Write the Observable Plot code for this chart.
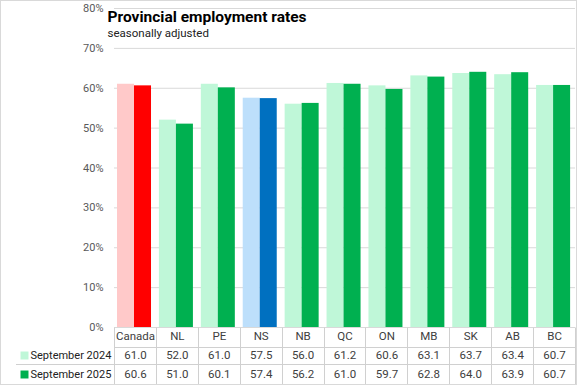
<!DOCTYPE html>
<html>
<head>
<meta charset="utf-8">
<script src="https://cdn.jsdelivr.net/npm/d3@7"></script>
<script src="https://cdn.jsdelivr.net/npm/@observablehq/plot@0.6"></script>
<style>
  html, body { margin: 0; padding: 0; background: #fff; }
  #chart svg { display: block; outline: 1px solid #d9d9d9; outline-offset: -1px; }
</style>
</head>
<body>
<div id="chart"></div>
<script>
const categories = ["Canada", "NL", "PE", "NS", "NB", "QC", "ON", "MB", "SK", "AB", "BC"];
const sep2024 = [61.0, 52.0, 61.0, 57.5, 56.0, 61.2, 60.6, 63.1, 63.7, 63.4, 60.7];
const sep2025 = [60.6, 51.0, 60.1, 57.4, 56.2, 61.0, 59.7, 62.8, 64.0, 63.9, 60.7];
const seriesLabels = ["September 2024", "September 2025"];
const yTicks = [0, 10, 20, 30, 40, 50, 60, 70, 80];
const titleText = "Provincial employment rates";
const subtitleText = "seasonally adjusted";

const lightColor = c => c === "Canada" ? "#ffc9c9" : c === "NS" ? "#bddffb" : "#bff7d8";
const darkColor = c => c === "Canada" ? "#ff0000" : c === "NS" ? "#0070c0" : "#00b050";

const data = categories.map((c, i) => ({cat: c, v2024: sep2024[i], v2025: sep2025[i]}));
const font = "Roboto, 'Liberation Sans', sans-serif";

const chart = Plot.plot({
  width: 577,
  height: 385,
  marginLeft: 114,
  marginRight: 2,
  marginTop: 8,
  marginBottom: 58,
  style: {fontFamily: font, background: "#fff"},
  x: {domain: categories, padding: 0, round: false, axis: null},
  y: {domain: [0, 80], axis: null},
  marks: [
    Plot.gridY(yTicks, {stroke: "#d9d9d9", strokeOpacity: 1}),
    Plot.axisY(yTicks, {tickSize: 0, tickPadding: 11, tickFormat: d => d + "%", fill: "#595959", fontSize: 11, label: null}),
    Plot.barY(data, {x: "cat", y: "v2024", fill: d => lightColor(d.cat), insetLeft: 3, insetRight: 21.9}),
    Plot.barY(data, {x: "cat", y: "v2025", fill: d => darkColor(d.cat), insetLeft: 20, insetRight: 4.9}),
    Plot.text(categories, {x: d => d, text: d => d, frameAnchor: "bottom", lineAnchor: "middle", dy: 9, fontSize: 11.5, fill: "#404040"}),
    Plot.text(data, {x: "cat", text: d => d.v2024.toFixed(1), frameAnchor: "bottom", lineAnchor: "middle", dy: 28, fontSize: 11.5, fill: "#404040"}),
    Plot.text(data, {x: "cat", text: d => d.v2025.toFixed(1), frameAnchor: "bottom", lineAnchor: "middle", dy: 47, fontSize: 11.5, fill: "#404040"}),
    Plot.text([seriesLabels[0]], {frameAnchor: "bottom-left", lineAnchor: "middle", dx: -84, dy: 28, textAnchor: "start", fontSize: 11, letterSpacing: -0.25, fill: "#222"}),
    Plot.text([seriesLabels[1]], {frameAnchor: "bottom-left", lineAnchor: "middle", dx: -84, dy: 47, textAnchor: "start", fontSize: 11, letterSpacing: -0.25, fill: "#222"}),
    Plot.dot([seriesLabels[0]], {frameAnchor: "bottom-left", dx: -90, dy: 28, symbol: "square", r: 4.5, fill: lightColor("NL"), stroke: null}),
    Plot.dot([seriesLabels[1]], {frameAnchor: "bottom-left", dx: -90, dy: 47, symbol: "square", r: 4.5, fill: darkColor("NL"), stroke: null}),
    Plot.text([titleText], {frameAnchor: "top-left", lineAnchor: "middle", dx: -7, dy: 9, textAnchor: "start", fontSize: 15.5, fontWeight: "bold", fill: "#000"}),
    Plot.text([subtitleText], {frameAnchor: "top-left", lineAnchor: "middle", dx: -7, dy: 24.5, textAnchor: "start", fontSize: 11.5, fill: "#222"})
  ]
});

// table grid lines, placed from the chart's own x scale
const xs = chart.scale("x");
const svg = d3.select(chart);
const bw = xs.bandwidth;
const edges = categories.map(c => xs.apply(c));
edges.push(xs.apply(categories[categories.length - 1]) + bw);
const g = svg.append("g").attr("stroke", "#d0d0d0").attr("stroke-width", 1);
const yTop = 327.5, yRow1 = 347.5, yRow2 = 364.5, yBot = 384.5;
edges.forEach(e => {
  const xx = Math.round(e) + 0.5;
  g.append("line").attr("x1", xx).attr("x2", xx).attr("y1", yTop).attr("y2", yBot);
});
g.append("line").attr("x1", Math.round(edges[0]) + 0.5).attr("x2", 577).attr("y1", yRow1).attr("y2", yRow1);
g.append("line").attr("x1", 16).attr("x2", 577).attr("y1", yRow2).attr("y2", yRow2);

document.getElementById("chart").appendChild(chart);
</script>
</body>
</html>
